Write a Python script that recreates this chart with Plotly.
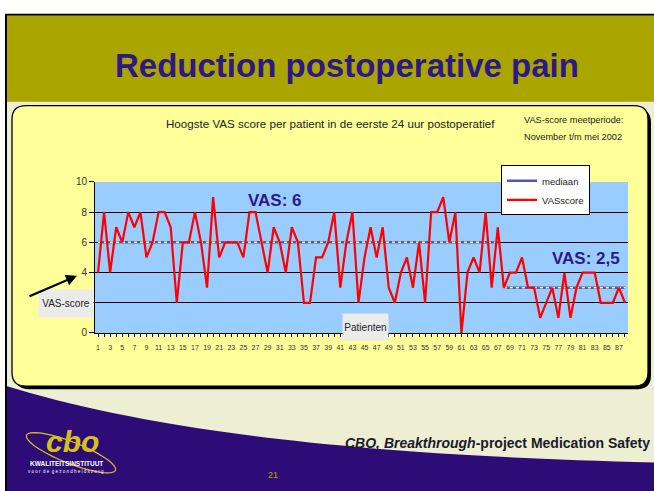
import math

import plotly.graph_objects as go

W, H = 654, 491

# data
patients = list(range(1, 89))
vas_score = [4, 8, 4, 7, 6, 8, 7, 8, 5, 6,
             8, 8, 7, 2, 6, 6, 8, 6, 3, 9,
             5, 6, 6, 6, 5, 8, 8, 6, 4, 7,
             6, 4, 7, 6, 2, 2, 5, 5, 6, 8,
             3, 6, 8, 2, 5, 7, 5, 7, 3, 2,
             4, 5, 3, 6, 2, 8, 8, 9, 6, 8,
             0, 4, 5, 4, 8, 3, 7, 3, 4, 4,
             5, 3, 3, 1, 2, 3, 1, 4, 1, 3,
             4, 4, 4, 2, 2, 2, 3, 2]
median_x = [1, 67, None, 68, 88]
median_y = [6, 6, None, 3, 3]
x_ticktext = [str(p) if p % 2 else "" for p in patients]
y_ticks = [0, 2, 4, 6, 8, 10]

FONT = "Liberation Sans, Arial, sans-serif"
PURPLE = "#2D0C78"
TITLE_C = "#2E1888"


def pt(x, y):
    # pixel position -> paper coordinates
    return f"{x / W:.5f},{1 - y / H:.5f}"


def rrect(x0, y0, x1, y1, r):
    return (f"M {pt(x0 + r, y0)} L {pt(x1 - r, y0)} Q {pt(x1, y0)} {pt(x1, y0 + r)} "
            f"L {pt(x1, y1 - r)} Q {pt(x1, y1)} {pt(x1 - r, y1)} "
            f"L {pt(x0 + r, y1)} Q {pt(x0, y1)} {pt(x0, y1 - r)} "
            f"L {pt(x0, y0 + r)} Q {pt(x0, y0)} {pt(x0 + r, y0)} Z")


def ellipse(cx, cy, a, b, ang):
    th = math.radians(ang)
    pts = []
    for k in range(0, 361, 10):
        t = math.radians(k)
        x = cx + a * math.cos(t) * math.cos(th) - b * math.sin(t) * math.sin(th)
        y = cy + a * math.cos(t) * math.sin(th) + b * math.sin(t) * math.cos(th)
        pts.append(pt(x, y))
    return "M " + " L ".join(pts) + " Z"


fig = go.Figure()
fig.add_trace(go.Scatter(x=median_x, y=median_y, mode="lines", name="mediaan",
                         line=dict(color="#5555B5", width=2.5)))
fig.add_trace(go.Scatter(x=median_x, y=median_y, mode="lines", showlegend=False,
                         line=dict(color="#FFFF66", width=1.5, dash="3px,3px")))
fig.add_trace(go.Scatter(x=patients, y=vas_score, mode="lines", name="VASscore",
                         line=dict(color="#FF0000", width=2.2)))

shapes = [
    # slide + header
    dict(type="rect", xref="paper", yref="paper", x0=6 / W, x1=1.02, y0=-0.05, y1=1 - 10 / H,
         fillcolor="#EEEED2", line=dict(color="black", width=2), layer="below"),
    dict(type="rect", xref="paper", yref="paper", x0=7 / W, x1=1.0, y0=1 - 99 / H, y1=1 - 11 / H,
         fillcolor="#ABA500", line=dict(width=0), layer="below"),
    # purple footer wave
    dict(type="path", xref="paper", yref="paper", layer="below",
         path=f"M {pt(7, 390)} C {pt(120, 425)} {pt(300, 460)} {pt(660, 468)} "
              f"L {pt(660, 510)} L {pt(7, 510)} Z",
         fillcolor=PURPLE, line=dict(width=0)),
    # yellow panel with shadow
    dict(type="path", xref="paper", yref="paper", layer="below",
         path=rrect(15, 106, 651, 393, 14), fillcolor="black", line=dict(width=0)),
    dict(type="path", xref="paper", yref="paper", layer="below",
         path=rrect(12, 103, 648, 390, 14), fillcolor="#FFFF99",
         line=dict(color="black", width=1.3)),
    # logo ring
    dict(type="path", xref="paper", yref="paper", layer="below",
         path=ellipse(71, 458, 48, 11, 22), line=dict(color="#D4C21A", width=1.2)),
    # plot area background
    dict(type="rect", xref="x domain", yref="y domain", x0=0, x1=1, y0=0, y1=1,
         fillcolor="#99CCFF", line=dict(width=0), layer="below"),
]


def note(x, y, text, size, color="#222222", family=FONT, xanchor="center", **kw):
    return dict(xref="paper", yref="paper", x=x / W, y=1 - y / H, text=text,
                xanchor=xanchor, yanchor="middle", showarrow=False,
                font=dict(size=size, color=color, family=family), **kw)


annotations = [
    note(347, 62, "<b>Reduction postoperative pain</b>", 33, TITLE_C),
    note(330, 121, "Hoogste VAS score per patient in de eerste 24 uur postoperatief", 11.6),
    note(573, 118, "VAS-score meetperiode:", 9.2),
    note(573, 135, "November t/m mei 2002", 9.2),
    note(275, 200, "<b>VAS: 6</b>", 17, TITLE_C),
    note(586, 259, "<b>VAS: 2,5</b>", 17, TITLE_C),
    note(66, 305, "VAS-score", 10, bgcolor="#EBEBEB", width=52, height=25),
    note(365, 329, "Patienten", 10, bgcolor="#EBEBEB", width=43, height=24),
    dict(xref="paper", yref="paper", x=77 / W, y=1 - 277 / H, ax=-49, ay=21, text="",
         showarrow=True, arrowhead=2, arrowsize=1, arrowwidth=2.2, arrowcolor="black"),
    note(652, 448, "<b><i>CBO, Breakthrough</i>-project Medication Safety</b>", 14,
         "#1A1A2A", xanchor="right"),
    note(273, 481, "21", 9, "#B5A800"),
    note(72, 446, "<i><b>cbo</b></i>", 30, "#D4C21A"),
    note(66, 469, "<b>KWALITEITSINSTITUUT</b>", 6.5, "white"),
    note(66, 477, "v o o r  d e  g e z o n d h e i d s z o r g", 4.5, "white"),
]

fig.update_layout(
    width=W,
    height=H,
    margin=dict(l=0, r=0, t=0, b=0),
    paper_bgcolor="white",
    plot_bgcolor="rgba(0,0,0,0)",
    font=dict(family=FONT, color="#222222"),
    shapes=shapes,
    annotations=annotations,
    showlegend=True,
    legend=dict(x=501 / W, y=1 - 164 / H, xanchor="left", yanchor="top",
                bgcolor="white", bordercolor="black", borderwidth=1,
                font=dict(size=9.5, family=FONT, color="#222222"),
                entrywidth=66, tracegroupgap=0),
)
fig.update_xaxes(domain=[95 / W, 628 / W], range=[0.5, 88.5], tickvals=patients,
                 ticktext=x_ticktext, ticks="outside", ticklen=3, tickcolor="black",
                 showline=True, linecolor="black", linewidth=1, showgrid=False,
                 zeroline=False, tickfont=dict(size=7, family=FONT, color="#333333"),
                 tickangle=0, ticklabelstandoff=5, fixedrange=True)
fig.update_yaxes(domain=[1 - 335.5 / H, 1 - 181 / H], range=[0, 10], tickvals=y_ticks,
                 ticks="outside", ticklen=5, tickcolor="black", showline=True,
                 linecolor="black", linewidth=1, showgrid=True, gridcolor="black",
                 gridwidth=1, zeroline=False,
                 tickfont=dict(size=10, family=FONT, color="#333333"), fixedrange=True)

page_css = (
    "document.body.style.margin='0px';"
    "document.body.style.overflow='hidden';"
    "document.documentElement.style.overflow='hidden';"
    "var gd=document.getElementById('{plot_id}');gd.style.display='block';"
    "document.querySelectorAll('.svg-container').forEach(function(e){e.style.display='block';});"
)
fig.write_html("out.html", config={"displayModeBar": False},
               default_width=f"{W}px", default_height=f"{H}px", post_script=page_css)
